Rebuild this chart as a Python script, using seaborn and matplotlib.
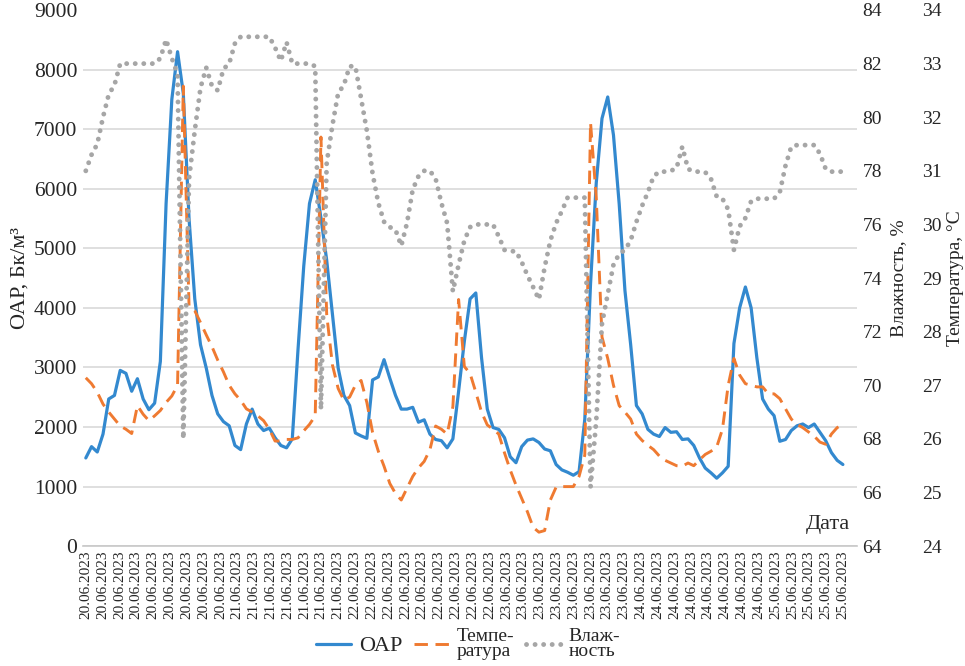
import numpy as np
import pandas as pd
import seaborn as sns
import matplotlib.pyplot as plt
from matplotlib.lines import Line2D

# OAP, Bq/m3
oap = [1480, 1670, 1580, 1880, 2470, 2530, 2950, 2900, 2600, 2810,
       2470, 2290, 2400, 3100, 5750, 7500, 8300, 7600, 5500, 4150,
       3380, 2990, 2530, 2220, 2090, 2020, 1690, 1620, 2050, 2300,
       2050, 1940, 1980, 1820, 1690, 1650, 1800, 3300, 4700, 5750,
       6150, 5510, 4800, 3890, 2990, 2530, 2360, 1900, 1850, 1810,
       2790, 2840, 3130, 2820, 2530, 2300, 2300, 2330, 2080, 2120,
       1880, 1790, 1770, 1650, 1800, 2600, 3440, 4150, 4250, 3160,
       2300, 1990, 1960, 1820, 1500, 1400, 1670, 1780, 1800, 1740,
       1630, 1600, 1370, 1280, 1240, 1190, 1250, 2130, 4400, 6100,
       7180, 7540, 6900, 5740, 4290, 3380, 2360, 2220, 1960, 1880,
       1840, 1990, 1910, 1920, 1790, 1800, 1690, 1480, 1310, 1230,
       1140, 1230, 1340, 3400, 4000, 4350, 4000, 3160, 2470, 2300,
       2190, 1760, 1790, 1940, 2020, 2050, 1990, 2050, 1910, 1770,
       1570, 1440, 1370]

# temperature, C
temperature = [27.14, 27.03, 26.87, 26.65, 26.50, 26.37, 26.24, 26.18, 26.10, 26.62,
               26.46, 26.34, 26.43, 26.53, 26.68, 26.80, 27.00, 32.58, 28.48, 28.39,
               28.17, 27.94, 27.72, 27.47, 27.25, 27.00, 26.84, 26.72, 26.56, 26.50,
               26.43, 26.34, 26.18, 25.96, 25.96, 25.99, 25.99, 26.02, 26.15, 26.27,
               26.43, 31.63, 28.32, 27.38, 26.94, 26.72, 26.78, 27.00, 27.09, 26.68,
               26.12, 25.77, 25.49, 25.17, 24.98, 24.86, 25.08, 25.30, 25.46, 25.58,
               25.80, 26.24, 26.18, 26.09, 26.60, 28.60, 27.35, 27.22, 26.87, 26.50,
               26.26, 26.18, 26.09, 25.74, 25.42, 25.14, 24.89, 24.64, 24.35, 24.26,
               24.29, 24.86, 25.10, 25.11, 25.11, 25.11, 25.30, 25.70, 31.90, 30.50,
               27.90, 27.50, 27.00, 26.62, 26.50, 26.37, 26.09, 25.97, 25.88, 25.80,
               25.68, 25.60, 25.55, 25.50, 25.49, 25.55, 25.50, 25.61, 25.71, 25.77,
               25.85, 26.18, 27.00, 27.50, 27.19, 27.03, 27.00, 26.97, 26.97, 26.84,
               26.84, 26.75, 26.56, 26.37, 26.27, 26.21, 26.13, 26.05, 25.94, 25.90,
               26.09, 26.21, 26.27]

# humidity, %
humidity = [78.0, 78.6, 79.0, 80.0, 80.85, 81.2, 82.0, 82.0, 82.0, 82.0,
            82.0, 82.0, 82.0, 82.2, 82.9, 82.2, 81.6, 68.0, 77.7, 79.5,
            81.1, 81.85, 81.16, 81.0, 81.8, 82.0, 82.75, 83.0, 83.0, 83.0,
            83.0, 83.0, 83.0, 82.6, 82.1, 82.8, 82.0, 82.0, 82.0, 82.0,
            81.9, 69.1, 78.3, 79.7, 80.9, 81.2, 81.9, 81.9, 80.7, 79.5,
            77.9, 76.8, 76.1, 75.9, 75.8, 75.2, 76.05, 77.3, 77.8, 78.0,
            78.0, 77.7, 76.8, 76.05, 73.5, 74.5, 75.4, 75.9, 76.0, 76.0,
            76.0, 76.0, 75.55, 75.05, 75.0, 75.0, 74.6, 74.1, 73.66, 73.2,
            74.4, 75.4, 76.05, 76.5, 77.0, 77.0, 77.0, 77.0, 66.2, 68.7,
            72.3, 73.4, 74.5, 74.9, 75.05, 75.4, 76.1, 76.7, 77.2, 77.8,
            77.97, 77.97, 78.0, 78.1, 78.9, 78.07, 77.97, 77.97, 77.95, 77.7,
            77.04, 76.96, 76.56, 75.05, 75.93, 76.24, 76.87, 76.96, 76.96, 76.96,
            76.96, 77.2, 78.2, 78.9, 78.96, 78.96, 78.96, 78.96, 78.64, 78.07,
            77.97, 77.97, 77.97]

days = ['20.06.2023', '21.06.2023', '22.06.2023', '23.06.2023', '24.06.2023', '25.06.2023']
day_label_counts = [9, 7, 9, 8, 8, 5]

df = pd.DataFrame({'n': range(len(oap)), 'oap': oap, 't': temperature, 'h': humidity})
date_labels = [d for d, c in zip(days, day_label_counts) for _ in range(c)]

sns.set_style('white')
plt.rcParams['font.family'] = ['Liberation Serif', 'DejaVu Serif']

c_blue = '#3389cf'
c_orange = '#ef7a31'
c_gray = '#a6a6a6'
dots = (0, (0.01, 1.75))
dashes = (0, (4.6, 2.6))

fig = plt.figure(figsize=(9.65, 6.66), dpi=100)
ax = fig.add_axes([0.086, 0.180, 0.802, 0.805])
ax_t = ax.twinx()
ax_h = ax.twinx()

sns.lineplot(data=df, x='n', y='oap', ax=ax, color=c_blue, linewidth=2.3)
sns.lineplot(data=df, x='n', y='t', ax=ax_t, color=c_orange, linewidth=2.1,
             linestyle=dashes, dash_capstyle='butt')
sns.lineplot(data=df, x='n', y='h', ax=ax_h, color=c_gray, linewidth=3.5,
             linestyle=dots, dash_capstyle='round')

# x axis: 46 date labels across 133 points, three ticks per label
n = len(oap)
k = (n - 1) / (len(date_labels) * 3 - 3)
ax.set_xlim(-0.5 * k, n - 1 + 0.5 * k)
ax.set_xticks(np.linspace(0, n - 1, len(date_labels)))
ax.set_xticklabels(date_labels, rotation=90, fontsize=11)
ax.set_xticks((np.arange(len(date_labels) * 3 + 1) - 0.5) * k, minor=True)
ax.tick_params(axis='x', which='major', length=0, pad=3)
ax.tick_params(axis='x', which='minor', length=4, color='#c8c8c8', width=1)
ax.set_xlabel('')

ax.set_ylim(0, 9000)
ax.set_yticks(range(0, 9001, 1000))
ax.tick_params(axis='y', labelsize=15.5, length=0, pad=4)
ax.set_ylabel('ОАР, Бк/м³', fontsize=16, labelpad=3)
ax.yaxis.grid(True, color='#d9d9d9', linewidth=1.2)
ax.get_ygridlines()[-1].set_visible(False)
ax.set_axisbelow(True)

ax_h.set_ylim(64, 84)
ax_h.set_yticks(range(64, 85, 2))
ax_h.tick_params(axis='y', labelsize=14, length=0, pad=4)
ax_h.set_ylabel('Влажность, %', fontsize=14, labelpad=6)

ax_t.set_ylim(24, 34)
ax_t.set_yticks(range(24, 35, 1))
ax_t.spines['right'].set_position(('outward', 43))
ax_t.tick_params(axis='y', labelsize=14, length=0, pad=4)
ax_t.set_ylabel('Температура, °С', fontsize=14, labelpad=4)

for a in (ax, ax_t, ax_h):
    for s in a.spines.values():
        s.set_visible(False)
    a.set_xlabel('')
ax.spines['bottom'].set_visible(True)
ax.spines['bottom'].set_color('#c8c8c8')
ax.spines['bottom'].set_linewidth(1.2)

fig.text(0.881, 0.205, 'Дата', fontsize=16, ha='right', va='baseline')

handles = [
    Line2D([], [], color=c_blue, linewidth=2.3),
    Line2D([], [], color=c_orange, linewidth=2.1, linestyle=dashes),
    Line2D([], [], color=c_gray, linewidth=3.5, linestyle=dots,
           dash_capstyle='round'),
]
leg = fig.legend(handles, ['ОАР', 'Темпе-\nратура', 'Влаж-\nность'],
                 loc='center', bbox_to_anchor=(0.485, 0.033), ncol=3,
                 frameon=False, fontsize=14, handlelength=1.8,
                 columnspacing=0.6, handletextpad=0.4)
for t in leg.get_texts():
    t.set_linespacing(0.85)
leg.get_texts()[0].set_fontsize(16)

fig.savefig('out.png', dpi=100)
